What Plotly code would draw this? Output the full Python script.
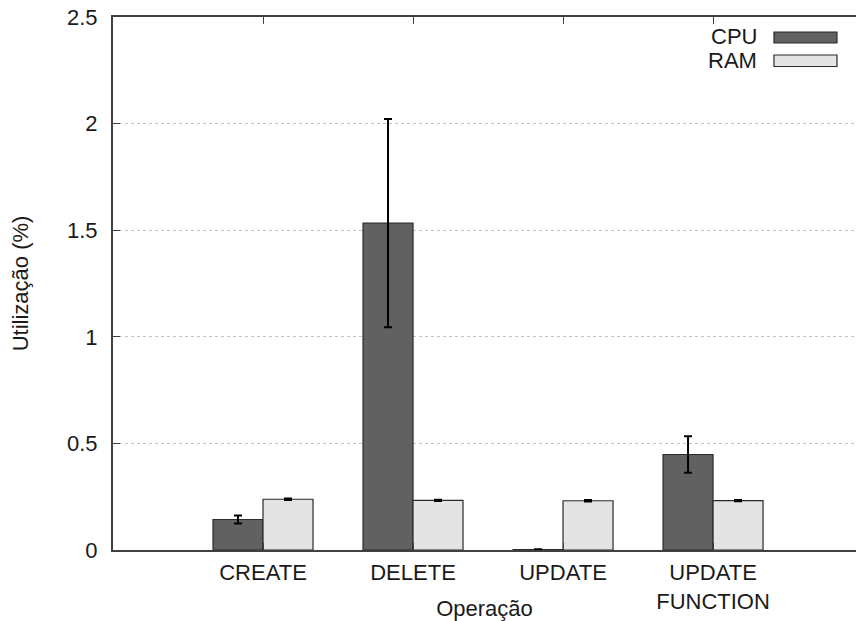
import plotly.graph_objects as go

# Operations measured and their display labels
categories = ["CREATE", "DELETE", "UPDATE", "UPDATE FUNCTION"]
tick_labels = ["CREATE", "DELETE", "UPDATE", "UPDATE<br>FUNCTION"]

# Mean utilisation (%) and error (half-width) per operation
cpu_mean = [0.143, 1.533, 0.002, 0.448]
cpu_err = [0.019, 0.488, 0.002, 0.086]
ram_mean = [0.238, 0.233, 0.231, 0.232]
ram_err = [0.003, 0.003, 0.003, 0.003]

series_names = ["CPU", "RAM"]
y_ticks = [0, 0.5, 1, 1.5, 2, 2.5]

FONT = "Liberation Sans, Arial, Helvetica, sans-serif"
FS = 22
TEXT = "#1a1a1a"
AXIS = "#404040"
CPU_FILL = "#616161"
RAM_FILL = "#e4e4e4"
EDGE = "#2b2b2b"

fig = go.Figure()

for name, vals, errs, fill in [
    (series_names[0], cpu_mean, cpu_err, CPU_FILL),
    (series_names[1], ram_mean, ram_err, RAM_FILL),
]:
    fig.add_trace(go.Bar(
        name=name,
        x=categories,
        y=vals,
        marker=dict(color=fill, line=dict(color=EDGE, width=1.2)),
        error_y=dict(type="data", array=errs, visible=True,
                     color="#000000", thickness=2, width=4),
        showlegend=False,
    ))

# gnuplot-style key: label on the left, swatch on the right
key_rows = [(series_names[0], CPU_FILL, 0.9625, 0.9719, 0.9512),
            (series_names[1], RAM_FILL, 0.9190, 0.9287, 0.9071)]
for label, fill, ty, y0, y1 in key_rows:
    fig.add_annotation(x=0.870, y=ty, xref="paper", yref="paper",
                       text=label, showarrow=False, xanchor="right",
                       yanchor="middle", font=dict(family=FONT, size=FS, color=TEXT))
    fig.add_shape(type="rect", xref="paper", yref="paper",
                  x0=0.8896, x1=0.9744, y0=y1, y1=y0,
                  fillcolor=fill, line=dict(color=EDGE, width=1.2))

fig.update_layout(
    width=856,
    height=621,
    margin=dict(l=113, r=0, t=17, b=71),
    paper_bgcolor="white",
    plot_bgcolor="white",
    barmode="group",
    bargap=1 / 3,
    bargroupgap=0,
    font=dict(family=FONT, size=FS, color=TEXT),
    xaxis=dict(
        type="category",
        range=[-1, 3.953],
        automargin=False,
        tickvals=categories,
        ticktext=tick_labels,
        showline=True,
        linecolor=AXIS,
        linewidth=2,
        mirror="ticks",
        ticks="inside",
        ticklen=7,
        tickcolor=AXIS,
        tickwidth=1,
        showgrid=False,
        ticklabelstandoff=2,
        tickfont=dict(family=FONT, size=FS, color=TEXT),
        title=dict(text="Operação", standoff=4,
                   font=dict(family=FONT, size=FS, color=TEXT)),
    ),
    yaxis=dict(
        range=[0, 2.5],
        automargin=False,
        tickvals=y_ticks,
        showline=True,
        linecolor=AXIS,
        linewidth=2,
        ticks="inside",
        ticklen=7,
        tickcolor=AXIS,
        tickwidth=1,
        showgrid=True,
        gridcolor="#c4c4c4",
        griddash="dot",
        gridwidth=1,
        zeroline=False,
        ticklabelstandoff=9,
        tickfont=dict(family=FONT, size=FS, color=TEXT),
        title=dict(text="Utilização (%)", standoff=32,
                   font=dict(family=FONT, size=FS, color=TEXT)),
    ),
)

fig.write_html("out.html")
